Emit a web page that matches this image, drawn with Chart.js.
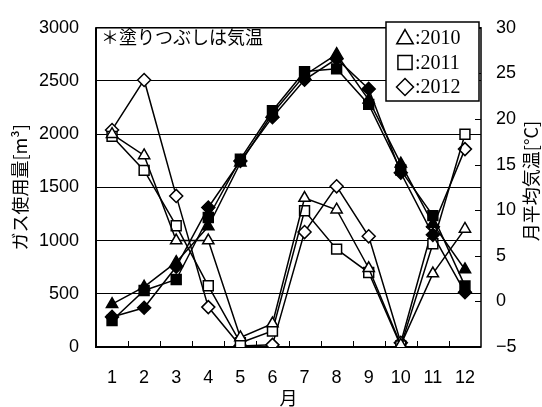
<!DOCTYPE html>
<html><head><meta charset="utf-8">
<script src="https://cdn.jsdelivr.net/npm/chart.js@4/dist/chart.umd.min.js"></script>
<style>html,body{margin:0;padding:0;background:#fff;}canvas{display:block;}</style>
</head><body>
<canvas id="c" width="542" height="407"></canvas>
<script>
const months = ['1','2','3','4','5','6','7','8','9','10','11','12'];
const gas2010 = [2000, 1800, 1000, 1000, 90, 220, 1400, 1290, 740, 20, 690, 1110];
const gas2011 = [1980, 1660, 1140, 575, 40, 150, 1280, 920, 700, 10, 970, 2000];
const gas2012 = [2040, 2510, 1420, 375, 10, 20, 1080, 1510, 1040, 40, 1130, 1860];
const temp2010 = [-0.3, 1.6, 4.3, 8.2, 15.2, 20.6, 24.8, 27.1, 22.1, 15.1, 8.5, 3.5];
const temp2011 = [-2.1, 1.2, 2.4, 9.2, 15.6, 20.9, 25.2, 25.5, 21.6, 14.4, 9.4, 1.7];
const temp2012 = [-1.7, -0.7, 3.8, 10.3, 15.4, 20.2, 24.3, 26.6, 23.3, 14.1, 7.3, 1.0];
const legendYears = ['2010', '2011', '2012'];
const styles = ['triangle', 'rect', 'rectRot'];
const noteText = '＊塗りつぶしは気温';
const leftTitle = 'ガス使用量[m³]';
const rightTitle = '月平均気温[°C]';
const xTitle = '月';

const JP = '"Noto Sans CJK JP", "Liberation Sans", sans-serif';
const NUM = '"Liberation Sans", Arial, sans-serif';

function ds(data, style, filled, axis, order) {
  return {
    data, yAxisID: axis, order,
    borderColor: '#000', borderWidth: 1.5,
    pointStyle: style, pointRadius: style === 'rect' ? 7 : 6.5, pointHoverRadius: 6.5,
    pointBackgroundColor: filled ? '#000' : '#fff',
    pointBorderColor: '#000', pointBorderWidth: 1.5,
    fill: false, tension: 0
  };
}

const deco = {
  id: 'deco',
  beforeDatasetsDraw(chart) {
    const {ctx, chartArea: a, scales: {x, y1}} = chart;
    ctx.save();
    ctx.strokeStyle = '#000';
    ctx.lineWidth = 1.5;
    ctx.strokeRect(a.left, a.top, a.right - a.left, a.bottom - a.top);
    ctx.lineWidth = 2;
    ctx.beginPath();
    ctx.moveTo(a.left, a.top); ctx.lineTo(a.left, a.bottom); ctx.lineTo(a.right, a.bottom);
    ctx.stroke();
    ctx.lineWidth = 1;
    ctx.beginPath();
    for (let i = 0; i < months.length - 1; i++) {
      const xb = Math.round((x.getPixelForValue(i) + x.getPixelForValue(i + 1)) / 2) + 0.5;
      ctx.moveTo(xb, a.bottom); ctx.lineTo(xb, a.bottom - 6);
    }
    y1.ticks.forEach(t => {
      const py = Math.round(y1.getPixelForValue(t.value)) + 0.5;
      ctx.moveTo(a.right, py); ctx.lineTo(a.right - 6, py);
    });
    ctx.stroke();
    ctx.restore();
  },
  afterDraw(chart) {
    const {ctx, chartArea: a} = chart;
    ctx.save();
    ctx.fillStyle = '#000';
    ctx.font = '18px ' + JP;
    ctx.textBaseline = 'middle';
    ctx.textAlign = 'left';
    ctx.fillText(noteText, a.left + 5, 37);
    // legend
    const bx = 386, by = 22, bw = 93, bh = 79;
    ctx.fillStyle = '#fff';
    ctx.fillRect(bx, by, bw, bh);
    ctx.strokeStyle = '#000';
    ctx.lineWidth = 1.5;
    ctx.strokeRect(bx, by, bw, bh);
    const rows = [38, 62.5, 87];
    const radii = [9.5, 10, 8.5];
    legendYears.forEach((yr, i) => {
      ctx.fillStyle = '#fff';
      ctx.strokeStyle = '#000';
      ctx.lineWidth = 1.5;
      Chart.helpers.drawPoint(ctx, {pointStyle: styles[i], rotation: 0, radius: radii[i], borderWidth: 1.5}, 405, rows[i] + (i === 0 ? 1 : 0));
      ctx.fillStyle = '#000';
      ctx.font = '20px "Liberation Serif", "Times New Roman", serif';
      ctx.textBaseline = 'middle';
      ctx.textAlign = 'left';
      ctx.fillText(':' + yr, 415, rows[i] + 1);
    });
    // right title
    ctx.translate(531, 181);
    ctx.rotate(-Math.PI / 2);
    ctx.font = '18px ' + JP;
    ctx.textAlign = 'center';
    ctx.textBaseline = 'middle';
    ctx.fillText(rightTitle, 0, 0);
    ctx.restore();
  }
};

new Chart(document.getElementById('c'), {
  type: 'line',
  data: {
    labels: months,
    datasets: [
      ds(temp2010, 'triangle', true, 'y1', 1),
      ds(temp2011, 'rect', true, 'y1', 2),
      ds(temp2012, 'rectRot', true, 'y1', 3),
      ds(gas2010, 'triangle', false, 'y', 4),
      ds(gas2011, 'rect', false, 'y', 5),
      ds(gas2012, 'rectRot', false, 'y', 6)
    ]
  },
  options: {
    responsive: false, animation: false, devicePixelRatio: 1,
    layout: {padding: {top: 18, left: 0, right: 0, bottom: 0}},
    plugins: {legend: {display: false}, tooltip: {enabled: false}},
    scales: {
      x: {
        type: 'category', offset: true,
        grid: {display: false, drawTicks: false},
        border: {display: false},
        ticks: {color: '#000', font: {family: NUM, size: 18}, padding: 20, maxRotation: 0, autoSkip: false},
        title: {display: true, text: xTitle, color: '#000', font: {family: JP, size: 18, lineHeight: 1}, padding: {top: 0, bottom: 0}},
        afterFit(s) { s.width = s.width; s.height = 60; }
      },
      y: {
        position: 'left', min: 0, max: 3000,
        ticks: {stepSize: 500, color: '#000', font: {family: NUM, size: 18}, padding: 17,
          callback: v => String(v)},
        grid: {color: '#000', lineWidth: 1, drawTicks: false},
        border: {display: false},
        title: {display: true, text: leftTitle, color: '#000', font: {family: JP, size: 18}, padding: {top: 9, bottom: 0}},
        afterFit(s) { s.width = 96; }
      },
      y1: {
        position: 'right', min: -5, max: 30,
        ticks: {stepSize: 5, color: '#000', font: {family: NUM, size: 18}, padding: 15,
          callback: v => (v < 0 ? '−' + Math.abs(v) : String(v))},
        grid: {display: false, drawTicks: false},
        border: {display: false},
        afterFit(s) { s.width = 61; }
      }
    }
  },
  plugins: [deco]
});
</script>
</body></html>
